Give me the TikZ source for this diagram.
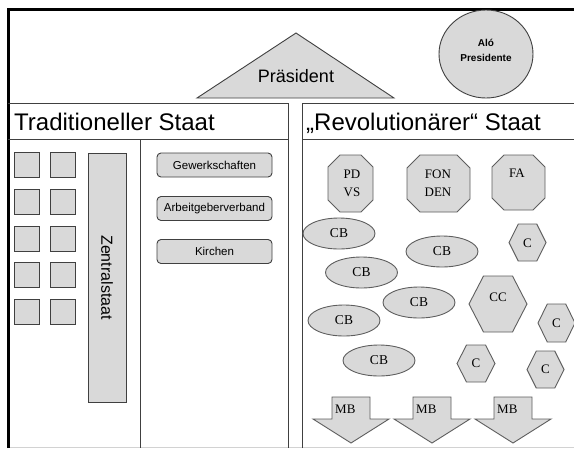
\documentclass[tikz,border=0pt]{standalone}
\usepackage{fontspec}
\setmainfont{Liberation Sans}
\newfontfamily\serf{Liberation Serif}
\usetikzlibrary{shapes.geometric}
\definecolor{fillg}{HTML}{D9D9D9}
\definecolor{lineg}{HTML}{404040}
\definecolor{shapeg}{HTML}{5E5E5E}
\tikzset{
  frame/.style={line width=2.4pt, black},
  sepline/.style={line width=1pt, lineg},
  sqbox/.style={draw=lineg, fill=fillg, line width=0.9pt, minimum size=25pt, inner sep=0pt},
  rbox/.style={draw=lineg, fill=fillg, line width=0.9pt, rounded corners=4pt, minimum width=115pt, minimum height=24pt, inner sep=0pt, font=\fontsize{11.5}{13}\selectfont},
  shp/.style={draw=shapeg, fill=fillg, line width=0.9pt},
  cb/.style={shp, ellipse, minimum width=72pt, minimum height=31pt, inner sep=0pt, font=\serf\fontsize{13.5}{15}\selectfont},
  slabel/.style={inner sep=0pt, align=center, font=\serf\fontsize{13}{18}\selectfont},
  title/.style={inner sep=0pt, anchor=base west, font=\fontsize{24}{28}\selectfont},
}
\newcommand\myocta[5]{%
  \draw[shp] ({#1-#3/2},{#2-#4/2+#5}) -- ({#1-#3/2+#5},{#2-#4/2}) -- ({#1+#3/2-#5},{#2-#4/2})
   -- ({#1+#3/2},{#2-#4/2+#5}) -- ({#1+#3/2},{#2+#4/2-#5}) -- ({#1+#3/2-#5},{#2+#4/2})
   -- ({#1-#3/2+#5},{#2+#4/2}) -- ({#1-#3/2},{#2+#4/2-#5}) -- cycle;}
\newcommand\myhexa[4]{%
  \draw[shp] ({#1-#3/2},{#2}) -- ({#1-#3/4},{#2-#4/2}) -- ({#1+#3/4},{#2-#4/2})
   -- ({#1+#3/2},{#2}) -- ({#1+#3/4},{#2+#4/2}) -- ({#1-#3/4},{#2+#4/2}) -- cycle;}
\newcommand\myarrow[1]{%
  \draw[shp] ({#1-19},397) -- ({#1+19},397) -- ({#1+19},419) -- ({#1+38},419)
   -- ({#1},443) -- ({#1-38},419) -- ({#1-19},419) -- cycle;}
\begin{document}
\begin{tikzpicture}[x=1pt,y=-1pt]
\useasboundingbox (0,0) rectangle (574,448);
\fill[white] (0,0) rectangle (574,448);
% outer frame
\draw[gray!35, line width=1pt] (8,447.5) -- (574,447.5);
\draw[frame] (8.5,448) -- (8.5,9.5) -- (574,9.5);
% top area
\draw[shp, draw=lineg] (296,33) -- (394,98) -- (197,98) -- cycle;
\node[inner sep=0pt, anchor=base, font=\fontsize{18}{20}\selectfont] (pres) at (296,82) {Präsident};
\draw[shp, draw=lineg] (486,54) ellipse [x radius=47, y radius=44];
\node[inner sep=0pt, align=center, font=\bfseries\fontsize{10}{15}\selectfont] (alo) at (486,50.5) {Aló\\Presidente};
% columns
\draw[sepline] (8,103) -- (288,103) -- (288,448);
\draw[sepline] (302,448) -- (302,103) -- (574,103);
\draw[sepline] (8,139) -- (288,139);
\draw[sepline] (302,139) -- (574,139);
\draw[sepline] (140,139) -- (140,448);
\node[title] (tradtitle) at (14,130) {Traditioneller Staat};
\node[title] (revtitle) at (306,130) {„Revolutionärer“ Staat};
% traditional state
\foreach \r/\y in {1/165,2/201.5,3/238.5,4/275,5/311.5}{
  \node[sqbox] (sqa\r) at (26.5,\y) {};
  \node[sqbox] (sqb\r) at (62.5,\y) {};
}
\node[draw=lineg, fill=fillg, line width=0.9pt, rotate=-90, minimum width=249pt, minimum height=38pt, inner sep=0pt, font=\fontsize{16}{18}\selectfont] (zentral) at (107,277.5) {Zentralstaat};
\node[rbox] (gew) at (214.5,165) {Gewerkschaften};
\node[rbox] (arb) at (214.5,208.5) {Arbeitgeberverband};
\node[rbox] (kir) at (214.5,251.5) {Kirchen};
% revolutionary state
\myocta{350.5}{183.5}{45}{57}{12}
\node[slabel] (pdvs) at (352,183) {PD\\VS};
\myocta{438.5}{183.5}{63}{57}{13}
\node[slabel] (fonden) at (438,183) {FON\\DEN};
\myocta{518.5}{182.5}{53}{55}{12}
\node[slabel] (fa) at (517,173) {FA};
\node[cb] (cb1) at (339,233.5) {CB};
\node[cb] (cb2) at (442,251.5) {CB};
\node[cb] (cb3) at (361.5,272.5) {CB};
\node[cb] (cb4) at (419,302.5) {CB};
\node[cb] (cb5) at (344,320.5) {CB};
\node[cb] (cb6) at (379,360.5) {CB};
\myhexa{527.5}{242.5}{37}{37}
\node[slabel] (c1) at (527.5,243) {C};
\myhexa{498}{304}{58}{56}
\node[slabel] (cc) at (498,297) {CC};
\myhexa{556.5}{323}{37}{38}
\node[slabel] (c2) at (556.5,323) {C};
\myhexa{476}{363.5}{38}{37}
\node[slabel] (c3) at (476,363.5) {C};
\myhexa{545.5}{369.5}{37}{37}
\node[slabel] (c4) at (545.5,369.5) {C};
\myarrow{351}
\node[slabel, anchor=west] (mb1) at (335,409.5) {MB};
\myarrow{432}
\node[slabel, anchor=west] (mb2) at (416,409.5) {MB};
\myarrow{513}
\node[slabel, anchor=west] (mb3) at (497,409.5) {MB};
\end{tikzpicture}
\end{document}
